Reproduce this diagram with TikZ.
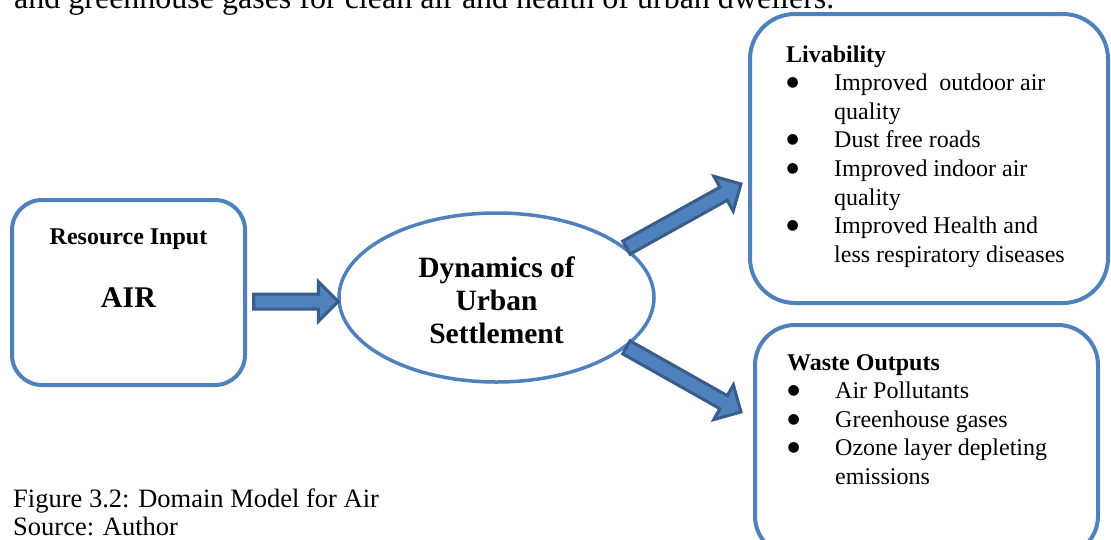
\documentclass[tikz,border=0pt]{standalone}
\usepackage{fontspec}
\setmainfont{Liberation Serif}
\newfontfamily\dejavusym{DejaVu Sans}
\usetikzlibrary{calc,shapes.geometric}
\definecolor{boxblue}{HTML}{4F81BD}
\definecolor{arrowedge}{HTML}{385D8A}
\newcommand\bul{\makebox[48pt][l]{\hspace{0.5pt}\raisebox{4pt}{\dejavusym\fontsize{14}{14}\selectfont ●}}}
\newcommand\ind{\hspace*{48pt}}
\newcommand\arrsw{7.5pt}
\newcommand\arrhw{20pt}
\newcommand\arrhl{20pt}
% #1 tail, #2 tip, #3 name prefix
\newcommand\blockarrow[3]{%
  \coordinate (#3h) at ($(#2)!\arrhl!(#1)$);
  \draw[barrow] ($(#1)!\arrsw!90:(#2)$) -- ($(#3h)!\arrsw!-90:(#1)$)
    -- ($(#3h)!\arrhw!-90:(#1)$) -- (#2) -- ($(#3h)!\arrhw!90:(#1)$)
    -- ($(#3h)!\arrsw!90:(#1)$) -- ($(#1)!\arrsw!-90:(#2)$) -- cycle;}
\tikzset{
  roundbox/.style={draw=boxblue, line width=4pt, rectangle, inner sep=0pt},
  ovalbox/.style={draw=boxblue, line width=3.5pt, fill=white, ellipse, inner sep=0pt},
  barrow/.style={fill=boxblue, draw=arrowedge, line width=3pt, line join=miter},
  bodytext/.style={inner sep=0pt, anchor=base west, font=\fontsize{24}{28.6}\selectfont},
}
\begin{document}
\begin{tikzpicture}[x=1pt,y=-1pt]
\useasboundingbox (0,0) rectangle (1111,539);
\fill[white] (0,0) rectangle (1111,539);
\clip (0,0) rectangle (1111,539);

% cut-off text line at the top
\node[anchor=base west, inner sep=0pt, font=\fontsize{32}{38}\selectfont] (toptext) at (14,8)
  {and greenhouse gases for clean air and health of urban dwellers.};

% boxes
\node[roundbox, rounded corners=30pt, minimum width=233pt, minimum height=185pt] (res) at (128.5,292.5) {};
\node[ovalbox, minimum width=315pt, minimum height=169pt] (dyn) at (496.5,297.5) {};
\node[roundbox, rounded corners=45pt, minimum width=358pt, minimum height=289pt] (liv) at (929,158.5) {};
\node[roundbox, rounded corners=40pt, minimum width=343pt, minimum height=231pt] (waste) at (926.5,440.5) {};

% texts
\node[anchor=base, inner sep=0pt, font=\fontsize{24}{28}\selectfont\bfseries] (ri) at (128.5,244) {Resource Input};
\node[anchor=base, inner sep=0pt, font=\fontsize{30}{36}\selectfont\bfseries] (air) at (128.5,307) {AIR};

\node[anchor=base, inner sep=0pt, font=\fontsize{29.5}{33}\selectfont\bfseries] (dyntxt) at (496.5,277)
  {\begin{tabular}[t]{@{}c@{}}Dynamics of\\Urban\\Settlement\end{tabular}};

\node[bodytext] (livtxt) at (786,62) {\begin{tabular}[t]{@{}l@{}}
\textbf{Livability}\\
\bul Improved\ \ outdoor air\\
\ind quality\\
\bul Dust free roads\\
\bul Improved indoor air\\
\ind quality\\
\bul Improved Health and\\
\ind less respiratory diseases
\end{tabular}};

\node[bodytext] (wastetxt) at (787,370) {\begin{tabular}[t]{@{}l@{}}
\textbf{Waste Outputs}\\
\bul Air Pollutants\\
\bul Greenhouse gases\\
\bul Ozone layer depleting\\
\ind emissions
\end{tabular}};

\node[anchor=base west, inner sep=0pt, font=\fontsize{26.5}{28}\selectfont] (cap) at (13,507)
  {\begin{tabular}[t]{@{}l@{}}Figure 3.2: Domain Model for Air\\Source: Author\end{tabular}};

% block arrows
\coordinate (a1s) at ($(res.east)+(6.5,9)$);
\coordinate (a1e) at ($(dyn.west)+(1,4)$);
\coordinate (a2s) at (dyn.21);
\coordinate (a2e) at ($(liv.west)+(-7,25.5)$);
\coordinate (a3s) at (dyn.-21);
\coordinate (a3e) at ($(waste.west)+(-12,-28.5)$);
\blockarrow{a1s}{a1e}{a1}
\blockarrow{a2s}{a2e}{a2}
\blockarrow{a3s}{a3e}{a3}
\end{tikzpicture}
\end{document}
